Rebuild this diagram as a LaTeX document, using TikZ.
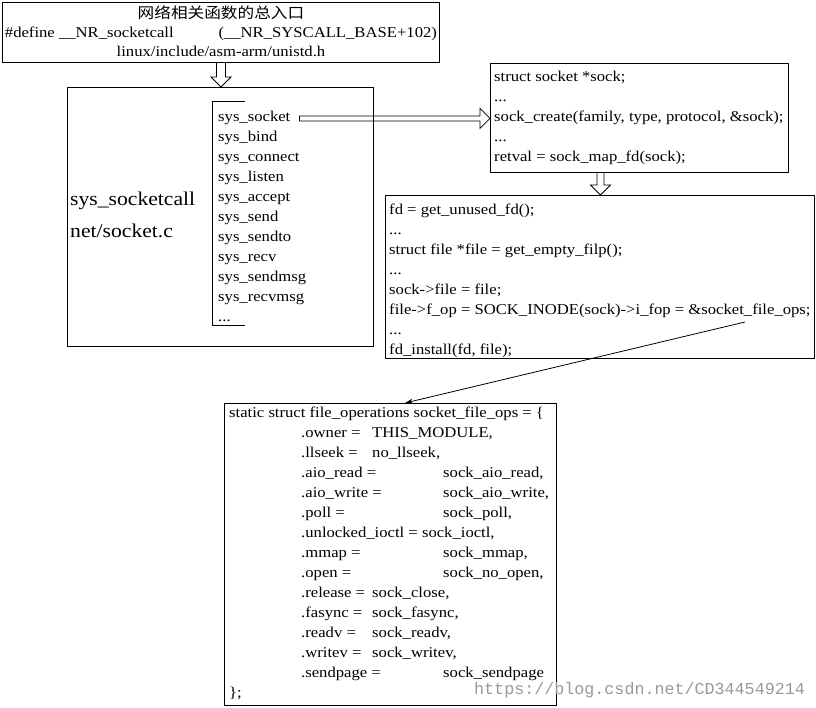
\documentclass[tikz,border=0pt]{standalone}
\usepackage{fontspec}
\setmainfont{Liberation Serif}[FakeStretch=1.11]
\newfontfamily\cjkfont{Noto Sans CJK SC}[FakeStretch=1.11]
\newfontfamily\wmfont{Liberation Mono}
\usetikzlibrary{arrows.meta,calc,positioning}
\newcommand{\fldS}[2]{\hspace*{72pt}\makebox[71pt][l]{#1}#2}
\newcommand{\fldW}[2]{\hspace*{72pt}\makebox[142pt][l]{#1}#2}
\newcommand{\moredots}{...}

\begin{document}
\begin{tikzpicture}[x=1pt,y=-1pt,>=Stealth,
  box/.style={draw,line width=0.9pt,anchor=north west,inner sep=0pt},
  code/.style={anchor=north west,inner sep=0pt,align=left,font=\fontsize{15}{20}\selectfont},
  hollow/.style={draw,line width=0.8pt,line join=miter}]
\useasboundingbox (0,0) rectangle (816,708);
\node[box,minimum width=437pt,minimum height=60pt] (top) at (2,2) {};
\node[code,anchor=north,align=center,font=\fontsize{15}{19}\selectfont] (topT) at ([shift={(0,3)}]top.north)
  {\strut{\cjkfont 网络相关函数的总入口}\\
   \makebox[432pt]{\#define \_\_NR\_socketcall\hfill(\_\_NR\_SYSCALL\_BASE+102)}\\
   linux/include/asm-arm/unistd.h};
\node[box,minimum width=306pt,minimum height=259pt] (sc) at (67,87) {};
\node[code,font=\fontsize{19.5}{32}\selectfont] (scT) at (70,183) {\strut sys\_socketcall\\net/socket.c};
\foreach \fn [count=\i] in {sys\_socket,sys\_bind,sys\_connect,sys\_listen,sys\_accept,sys\_send,
  sys\_sendto,sys\_recv,sys\_sendmsg,sys\_recvmsg,\moredots}
  \node[anchor=base west,inner sep=0pt,font=\fontsize{15}{20}\selectfont] (call-\i) at (218,{102+20*\i}) {\fn};
\draw[line width=0.8pt] (245,101) -| (212,325) -- (245,325);
\node[box,minimum width=298pt,minimum height=109pt] (create) at (490,63) {};
\node[code] (createT) at (494,67)
  {\strut struct socket *sock;\\...\\sock\_create(family, type, protocol, \&sock);\\...\\retval = sock\_map\_fd(sock);};
\node[box,minimum width=429pt,minimum height=163pt] (fd) at (385,195) {};
\node[code] (fdT) at (389,200)
  {\strut fd = get\_unused\_fd();\\...\\struct file *file = get\_empty\_filp();\\...\\sock->file = file;\\
   file->f\_op = SOCK\_INODE(sock)->i\_fop = \&socket\_file\_ops;\\...\\fd\_install(fd, file);};
\node[box,minimum width=332pt,minimum height=302pt] (fops) at (224,403) {};
\node[code] (fopsT) at (229,403.5)
  {\strut static struct file\_operations socket\_file\_ops = \{\\
   \fldS{.owner =}{THIS\_MODULE,}\\
   \fldS{.llseek =}{no\_llseek,}\\
   \fldW{.aio\_read =}{sock\_aio\_read,}\\
   \fldW{.aio\_write =}{sock\_aio\_write,}\\
   \fldW{.poll =}{sock\_poll,}\\
   \hspace*{72pt}.unlocked\_ioctl = sock\_ioctl,\\
   \fldW{.mmap =}{sock\_mmap,}\\
   \fldW{.open =}{sock\_no\_open,}\\
   \fldS{.release =}{sock\_close,}\\
   \fldS{.fasync =}{sock\_fasync,}\\
   \fldS{.readv =}{sock\_readv,}\\
   \fldS{.writev =}{sock\_writev,}\\
   \fldW{.sendpage =}{sock\_sendpage}\\
   \};};
\coordinate (a1) at (top.south);
\coordinate (b1) at (top.south |- sc.north);
\draw[hollow] ($(a1)+(-4.5,0)$) -- ($(b1)+(-4.5,-10)$) -- ($(b1)+(-10,-10)$) -- (b1)
  -- ($(b1)+(10,-10)$) -- ($(b1)+(4.5,-10)$) -- ($(a1)+(4.5,0)$);
\coordinate (a2) at ([xshift=-39pt]create.south);
\coordinate (b2) at (a2 |- fd.north);
\draw[hollow] ($(a2)+(-3.5,0)$) -- ($(b2)+(-3.5,-10)$) -- ($(b2)+(-10,-10)$) -- (b2)
  -- ($(b2)+(10,-10)$) -- ($(b2)+(3.5,-10)$) -- ($(a2)+(3.5,0)$);
\coordinate (a3) at ([xshift=9pt]call-1.east);
\coordinate (b3) at (a3 -| create.west);
\draw[hollow] ($(a3)+(0,-2.5)$) -- ($(b3)+(-10,-2.5)$) -- ($(b3)+(-10,-10)$) -- (b3)
  -- ($(b3)+(-10,10)$) -- ($(b3)+(-10,2.5)$) -- ($(a3)+(0,2.5)$) -- cycle;
\coordinate (opsref) at (745,322);
\draw[-{Stealth[length=8pt,width=5pt]},line width=0.8pt] (opsref) -- ([xshift=181pt]fops.north west);
\node[anchor=base west,inner sep=0pt,text=black!40,font=\wmfont\fontsize{16.7}{17}\selectfont] (wm) at (474,694)
  {https://blog.csdn.net/CD344549214};
\end{tikzpicture}
\end{document}
